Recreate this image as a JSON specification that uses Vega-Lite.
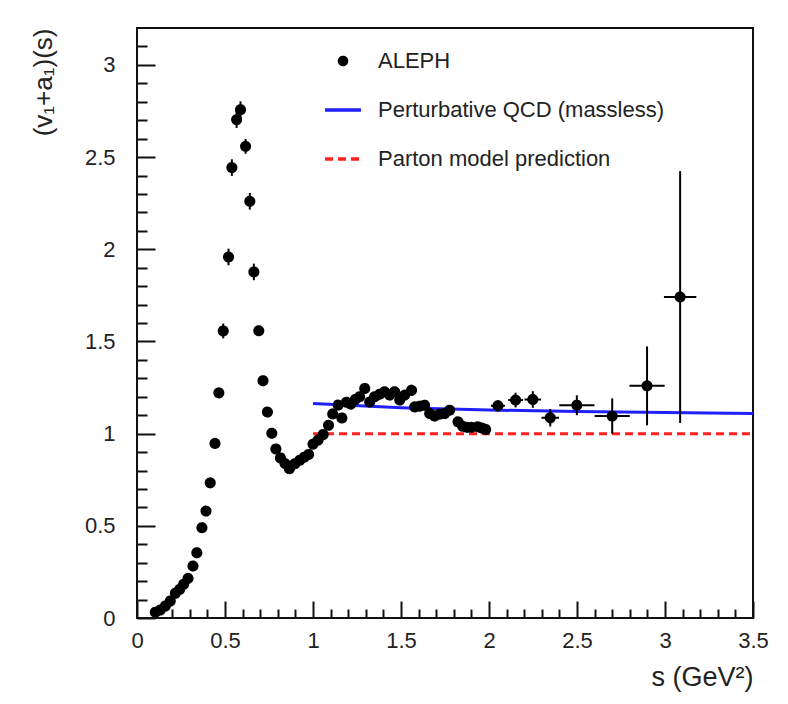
{
  "$schema": "https://vega.github.io/schema/vega-lite/v6.json",
  "autosize": {"type": "none"},
  "width": 616,
  "height": 590,
  "padding": {"left": 137, "top": 28, "right": 35, "bottom": 86},
  "background": "white",
  "config": {
    "font": "Liberation Sans",
    "view": {"stroke": "#111", "strokeWidth": 2},
    "axis": {"grid": false, "domain": false, "labelFont": "Liberation Sans", "titleFont": "Liberation Sans", "labelColor": "#222", "titleColor": "#222", "tickColor": "#111", "titleFontWeight": "normal"},
    "legend": {"labelFont": "Liberation Sans"}
  },
  "datasets": {
    "aleph": [
      {"s": 0.104, "v": 0.031, "ey": 0, "ex": 0},
      {"s": 0.132, "v": 0.043, "ey": 0, "ex": 0},
      {"s": 0.161, "v": 0.065, "ey": 0, "ex": 0},
      {"s": 0.189, "v": 0.092, "ey": 0, "ex": 0},
      {"s": 0.218, "v": 0.134, "ey": 0, "ex": 0},
      {"s": 0.242, "v": 0.155, "ey": 0, "ex": 0},
      {"s": 0.265, "v": 0.183, "ey": 0, "ex": 0},
      {"s": 0.29, "v": 0.215, "ey": 0, "ex": 0},
      {"s": 0.318, "v": 0.282, "ey": 0, "ex": 0},
      {"s": 0.34, "v": 0.354, "ey": 0, "ex": 0},
      {"s": 0.369, "v": 0.49, "ey": 0, "ex": 0},
      {"s": 0.392, "v": 0.58, "ey": 0, "ex": 0},
      {"s": 0.416, "v": 0.733, "ey": 0, "ex": 0},
      {"s": 0.443, "v": 0.947, "ey": 0, "ex": 0},
      {"s": 0.465, "v": 1.221, "ey": 0.02, "ex": 0},
      {"s": 0.49, "v": 1.557, "ey": 0.04, "ex": 0},
      {"s": 0.52, "v": 1.958, "ey": 0.045, "ex": 0},
      {"s": 0.539, "v": 2.443, "ey": 0.045, "ex": 0},
      {"s": 0.566, "v": 2.703, "ey": 0.045, "ex": 0},
      {"s": 0.588, "v": 2.757, "ey": 0.045, "ex": 0},
      {"s": 0.617, "v": 2.558, "ey": 0.04, "ex": 0},
      {"s": 0.641, "v": 2.26, "ey": 0.045, "ex": 0},
      {"s": 0.664, "v": 1.877, "ey": 0.045, "ex": 0},
      {"s": 0.692, "v": 1.558, "ey": 0.01, "ex": 0},
      {"s": 0.716, "v": 1.287, "ey": 0, "ex": 0},
      {"s": 0.741, "v": 1.117, "ey": 0, "ex": 0},
      {"s": 0.766, "v": 1.002, "ey": 0, "ex": 0},
      {"s": 0.789, "v": 0.917, "ey": 0, "ex": 0},
      {"s": 0.815, "v": 0.868, "ey": 0, "ex": 0},
      {"s": 0.841, "v": 0.838, "ey": 0, "ex": 0},
      {"s": 0.866, "v": 0.81, "ey": 0, "ex": 0},
      {"s": 0.897, "v": 0.837, "ey": 0, "ex": 0},
      {"s": 0.925, "v": 0.856, "ey": 0, "ex": 0},
      {"s": 0.95, "v": 0.872, "ey": 0, "ex": 0},
      {"s": 0.975, "v": 0.887, "ey": 0, "ex": 0},
      {"s": 1.0, "v": 0.943, "ey": 0, "ex": 0},
      {"s": 1.029, "v": 0.965, "ey": 0, "ex": 0},
      {"s": 1.058, "v": 0.995, "ey": 0.01, "ex": 0},
      {"s": 1.088, "v": 1.045, "ey": 0.015, "ex": 0},
      {"s": 1.112, "v": 1.107, "ey": 0.02, "ex": 0},
      {"s": 1.143, "v": 1.155, "ey": 0.02, "ex": 0},
      {"s": 1.164, "v": 1.085, "ey": 0.02, "ex": 0},
      {"s": 1.19, "v": 1.17, "ey": 0.02, "ex": 0},
      {"s": 1.215, "v": 1.16, "ey": 0.02, "ex": 0},
      {"s": 1.24, "v": 1.185, "ey": 0.02, "ex": 0},
      {"s": 1.265, "v": 1.2, "ey": 0.02, "ex": 0},
      {"s": 1.294, "v": 1.245, "ey": 0.025, "ex": 0},
      {"s": 1.322, "v": 1.172, "ey": 0.025, "ex": 0},
      {"s": 1.35, "v": 1.2, "ey": 0.025, "ex": 0},
      {"s": 1.379, "v": 1.214, "ey": 0.025, "ex": 0},
      {"s": 1.407, "v": 1.227, "ey": 0.025, "ex": 0},
      {"s": 1.436, "v": 1.209, "ey": 0.025, "ex": 0},
      {"s": 1.464, "v": 1.227, "ey": 0.025, "ex": 0},
      {"s": 1.493, "v": 1.182, "ey": 0.025, "ex": 0},
      {"s": 1.521, "v": 1.209, "ey": 0.025, "ex": 0},
      {"s": 1.56, "v": 1.235, "ey": 0.03, "ex": 0},
      {"s": 1.578, "v": 1.145, "ey": 0.025, "ex": 0},
      {"s": 1.606, "v": 1.149, "ey": 0.025, "ex": 0},
      {"s": 1.634, "v": 1.154, "ey": 0.025, "ex": 0},
      {"s": 1.663, "v": 1.109, "ey": 0.025, "ex": 0},
      {"s": 1.691, "v": 1.095, "ey": 0.025, "ex": 0},
      {"s": 1.72, "v": 1.106, "ey": 0.02, "ex": 0},
      {"s": 1.748, "v": 1.109, "ey": 0.02, "ex": 0},
      {"s": 1.776, "v": 1.127, "ey": 0.02, "ex": 0},
      {"s": 1.824, "v": 1.064, "ey": 0.02, "ex": 0},
      {"s": 1.85, "v": 1.04, "ey": 0.02, "ex": 0},
      {"s": 1.875, "v": 1.034, "ey": 0.02, "ex": 0},
      {"s": 1.9, "v": 1.034, "ey": 0.02, "ex": 0},
      {"s": 1.937, "v": 1.037, "ey": 0.02, "ex": 0},
      {"s": 1.96, "v": 1.03, "ey": 0.02, "ex": 0},
      {"s": 1.981, "v": 1.023, "ey": 0.02, "ex": 0},
      {"s": 2.051, "v": 1.151, "ey": 0.03, "ex": 0.04},
      {"s": 2.151, "v": 1.182, "ey": 0.04, "ex": 0.042},
      {"s": 2.249, "v": 1.185, "ey": 0.045, "ex": 0.047},
      {"s": 2.348, "v": 1.086, "ey": 0.047, "ex": 0.05},
      {"s": 2.499, "v": 1.154, "ey": 0.054, "ex": 0.1},
      {"s": 2.7, "v": 1.095, "ey": 0.096, "ex": 0.1},
      {"s": 2.898, "v": 1.259, "ey": 0.214, "ex": 0.1},
      {"s": 3.086, "v": 1.741, "ey": 0.683, "ex": 0.092}
    ],
    "qcd": [
      {"s": 1.0, "v": 1.163},
      {"s": 1.5, "v": 1.141},
      {"s": 2.0, "v": 1.128},
      {"s": 2.5, "v": 1.12},
      {"s": 3.0, "v": 1.114},
      {"s": 3.5, "v": 1.109}
    ],
    "parton": [
      {"s": 1.0, "v": 1.0},
      {"s": 3.5, "v": 1.0}
    ]
  },
  "encoding": {
    "x": {"field": "s", "type": "quantitative", "title": "s (GeV²)", "scale": {"domain": [0, 3.5], "nice": false, "zero": false},
      "axis": {"orient": "bottom", "values": [0,0.1,0.2,0.3,0.4,0.5,0.6,0.7,0.8,0.9,1,1.1,1.2,1.3,1.4,1.5,1.6,1.7,1.8,1.9,2,2.1,2.2,2.3,2.4,2.5,2.6,2.7,2.8,2.9,3,3.1,3.2,3.3,3.4,3.5],
        "format": "~g", "labelExpr": "abs(datum.value * 2 - round(datum.value * 2)) < 0.001 ? datum.label : ''",
        "tickSize": {"condition": {"test": "abs(datum.value * 2 - round(datum.value * 2)) < 0.001", "value": -17}, "value": -9},
        "tickWidth": 2, "labelFontSize": 22, "labelPadding": 29, "labelFlush": false, "labelOverlap": false,
        "titleFontSize": 27, "titleAlign": "right", "titleAnchor": "end", "titleBaseline": "alphabetic", "titleX": 616, "titleY": 67}},
    "y": {"field": "v", "type": "quantitative", "title": "(v₁+a₁)(s)", "scale": {"domain": [0, 3.2], "nice": false, "zero": false},
      "axis": {"orient": "left", "values": [0,0.1,0.2,0.3,0.4,0.5,0.6,0.7,0.8,0.9,1,1.1,1.2,1.3,1.4,1.5,1.6,1.7,1.8,1.9,2,2.1,2.2,2.3,2.4,2.5,2.6,2.7,2.8,2.9,3,3.1],
        "format": "~g", "labelExpr": "abs(datum.value * 2 - round(datum.value * 2)) < 0.001 ? datum.label : ''",
        "tickSize": {"condition": {"test": "abs(datum.value * 2 - round(datum.value * 2)) < 0.001", "value": -18}, "value": -10},
        "tickWidth": 2, "labelFontSize": 22, "labelPadding": 40, "labelFlush": false, "labelOverlap": false,
        "titleFontSize": 26, "titleAngle": 270, "titleAlign": "right", "titleAnchor": "end", "titleBaseline": "alphabetic", "titleX": -86, "titleY": 0}}
  },
  "layer": [
    {
      "data": {"name": "qcd"},
      "mark": {"type": "line", "color": "#2020ff", "strokeWidth": 3}
    },
    {
      "data": {"name": "parton"},
      "mark": {"type": "line", "color": "#ff2020", "strokeWidth": 3, "strokeDash": [8, 5]}
    },
    {
      "data": {"name": "aleph"},
      "mark": {"type": "errorbar", "color": "black", "rule": {"strokeWidth": 2}},
      "encoding": {"yError": {"field": "ey"}}
    },
    {
      "data": {"name": "aleph"},
      "transform": [{"filter": "datum.ex > 0"}],
      "mark": {"type": "errorbar", "color": "black", "rule": {"strokeWidth": 2}},
      "encoding": {"xError": {"field": "ex"}}
    },
    {
      "data": {"name": "aleph"},
      "mark": {"type": "point", "filled": true, "strokeWidth": 4, "opacity": 1},
      "encoding": {
        "fill": {"datum": "ALEPH", "type": "nominal",
          "scale": {"domain": ["ALEPH", "Perturbative QCD (massless)", "Parton model prediction"], "range": ["black", "transparent", "transparent"]},
          "legend": {"title": null, "orient": "none", "legendX": 186, "legendY": 22, "padding": 0, "labelFontSize": 22, "labelColor": "#222", "labelOffset": 15, "rowPadding": 18, "labelLimit": 400, "symbolStrokeWidth": 3.5, "symbolOpacity": 1}},
        "stroke": {"datum": "ALEPH", "type": "nominal",
          "scale": {"domain": ["ALEPH", "Perturbative QCD (massless)", "Parton model prediction"], "range": ["black", "#2020ff", "#ff2020"]}},
        "shape": {"datum": "ALEPH", "type": "nominal",
          "scale": {"domain": ["ALEPH", "Perturbative QCD (massless)", "Parton model prediction"], "range": ["circle", "stroke", "stroke"]}},
        "strokeDash": {"datum": "ALEPH", "type": "nominal",
          "scale": {"domain": ["ALEPH", "Perturbative QCD (massless)", "Parton model prediction"], "range": [[1, 0], [1, 0], [8, 5]]}},
        "size": {"datum": "ALEPH", "type": "ordinal",
          "scale": {"type": "ordinal", "domain": ["ALEPH", "Perturbative QCD (massless)", "Parton model prediction"], "range": [50, 1296, 1296]}}
      }
    }
  ]
}
